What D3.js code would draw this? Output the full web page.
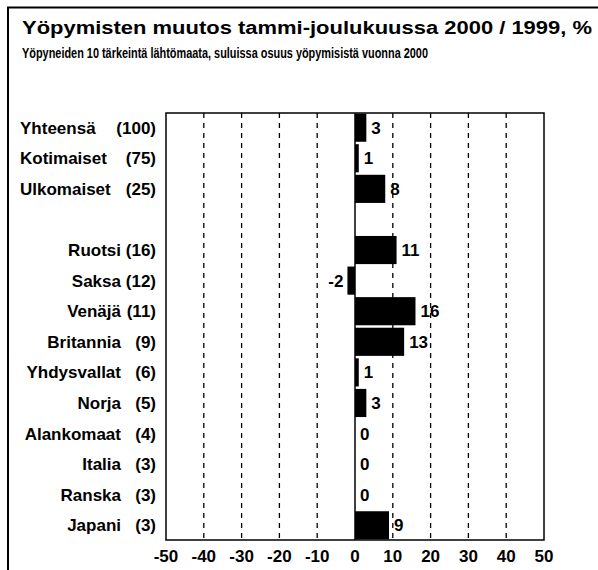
<!DOCTYPE html>
<html>
<head>
<meta charset="utf-8">
<title>Yöpymisten muutos</title>
<script src="https://cdnjs.cloudflare.com/ajax/libs/d3/7.8.5/d3.min.js"></script>
<style>
    body { margin: 0; background: #fff; }
    svg { display: block; font-family: "Liberation Sans", Arial, sans-serif; }
    .lbl { font-weight: bold; font-size: 17px; }
</style>
</head>
<body>
<script>
    // data
    const names = ['Yhteensä', 'Kotimaiset', 'Ulkomaiset', '', 'Ruotsi', 'Saksa', 'Venäjä', 'Britannia',
        'Yhdysvallat', 'Norja', 'Alankomaat', 'Italia', 'Ranska', 'Japani'];
    const shares = [100, 75, 25, null, 16, 12, 11, 9, 6, 5, 4, 3, 3, 3];
    const changes = [3, 1, 8, null, 11, -2, 16, 13, 1, 3, 0, 0, 0, 9];
    const xTicks = [-50, -40, -30, -20, -10, 0, 10, 20, 30, 40, 50];

    const W = 598, H = 570;
    const plot = {left: 166, right: 544, top: 113, bottom: 540};

    const svg = d3.select('body').append('svg')
        .attr('width', W).attr('height', H);

    // outer frame (only top and left edges show)
    svg.append('path')
        .attr('d', `M8,${H}V7.5H${W}`)
        .attr('fill', 'none').attr('stroke', '#000').attr('stroke-width', 2);

    svg.append('text')
        .attr('x', 22).attr('y', 34)
        .attr('font-size', 18).attr('font-weight', 'bold')
        .attr('textLength', 570).attr('lengthAdjust', 'spacingAndGlyphs')
        .text('Yöpymisten muutos tammi-joulukuussa 2000 / 1999, %');

    svg.append('text')
        .attr('x', 22).attr('y', 57.5)
        .attr('font-size', 15).attr('font-weight', 'bold')
        .attr('textLength', 406).attr('lengthAdjust', 'spacingAndGlyphs')
        .text('Yöpyneiden 10 tärkeintä lähtömaata, suluissa osuus  yöpymisistä vuonna 2000');

    const x = d3.scaleLinear().domain([-50, 50]).range([plot.left, plot.right]);
    const y = d3.scaleBand().domain(d3.range(names.length))
        .range([plot.top, plot.bottom]).paddingInner(0.08).paddingOuter(0.02);

    // dashed gridlines
    svg.append('g').selectAll('line')
        .data(xTicks.filter(d => d !== 0 && Math.abs(d) < 50)).enter()
        .append('line')
        .attr('x1', d => x(d)).attr('x2', d => x(d))
        .attr('y1', plot.top).attr('y2', plot.bottom)
        .attr('stroke', '#000').attr('stroke-width', 1.3)
        .attr('stroke-dasharray', '5,5');

    // plot border
    svg.append('rect')
        .attr('x', plot.left).attr('y', plot.top)
        .attr('width', plot.right - plot.left).attr('height', plot.bottom - plot.top)
        .attr('fill', 'none').attr('stroke', '#000').attr('stroke-width', 1.5);

    const rows = names.map((n, i) => ({i, name: n, share: shares[i], v: changes[i]}))
        .filter(d => d.v !== null);

    // bars
    svg.append('g').selectAll('rect')
        .data(rows).enter()
        .append('rect')
        .attr('x', d => x(Math.min(0, d.v)))
        .attr('y', d => y(d.i))
        .attr('width', d => Math.abs(x(d.v) - x(0)))
        .attr('height', y.bandwidth())
        .attr('fill', '#000');

    // zero line
    svg.append('line')
        .attr('x1', x(0)).attr('x2', x(0))
        .attr('y1', plot.top).attr('y2', plot.bottom)
        .attr('stroke', '#000').attr('stroke-width', 1.5);

    // value labels
    svg.append('g').selectAll('text')
        .data(rows).enter()
        .append('text').attr('class', 'lbl')
        .attr('x', d => d.v < 0 ? x(d.v) - 4 : x(Math.max(d.v, 0)) + 5)
        .attr('y', d => y(d.i) + y.bandwidth() / 2 + 6)
        .attr('text-anchor', d => d.v < 0 ? 'end' : 'start')
        .text(d => d.v);

    // category labels: top three left aligned, countries right aligned
    svg.append('g').selectAll('text')
        .data(rows).enter()
        .append('text').attr('class', 'lbl')
        .attr('x', d => d.i < 3 ? 20 : 121)
        .attr('y', d => y(d.i) + y.bandwidth() / 2 + 6)
        .attr('text-anchor', d => d.i < 3 ? 'start' : 'end')
        .text(d => d.name);

    svg.append('g').selectAll('text')
        .data(rows).enter()
        .append('text').attr('class', 'lbl')
        .attr('x', 156)
        .attr('y', d => y(d.i) + y.bandwidth() / 2 + 6)
        .attr('text-anchor', 'end')
        .text(d => '(' + d.share + ')');

    // x tick labels
    svg.append('g').selectAll('text')
        .data(xTicks).enter()
        .append('text').attr('class', 'lbl')
        .attr('x', d => x(d))
        .attr('y', 562)
        .attr('text-anchor', 'middle')
        .text(d => d);
</script>
</body>
</html>
